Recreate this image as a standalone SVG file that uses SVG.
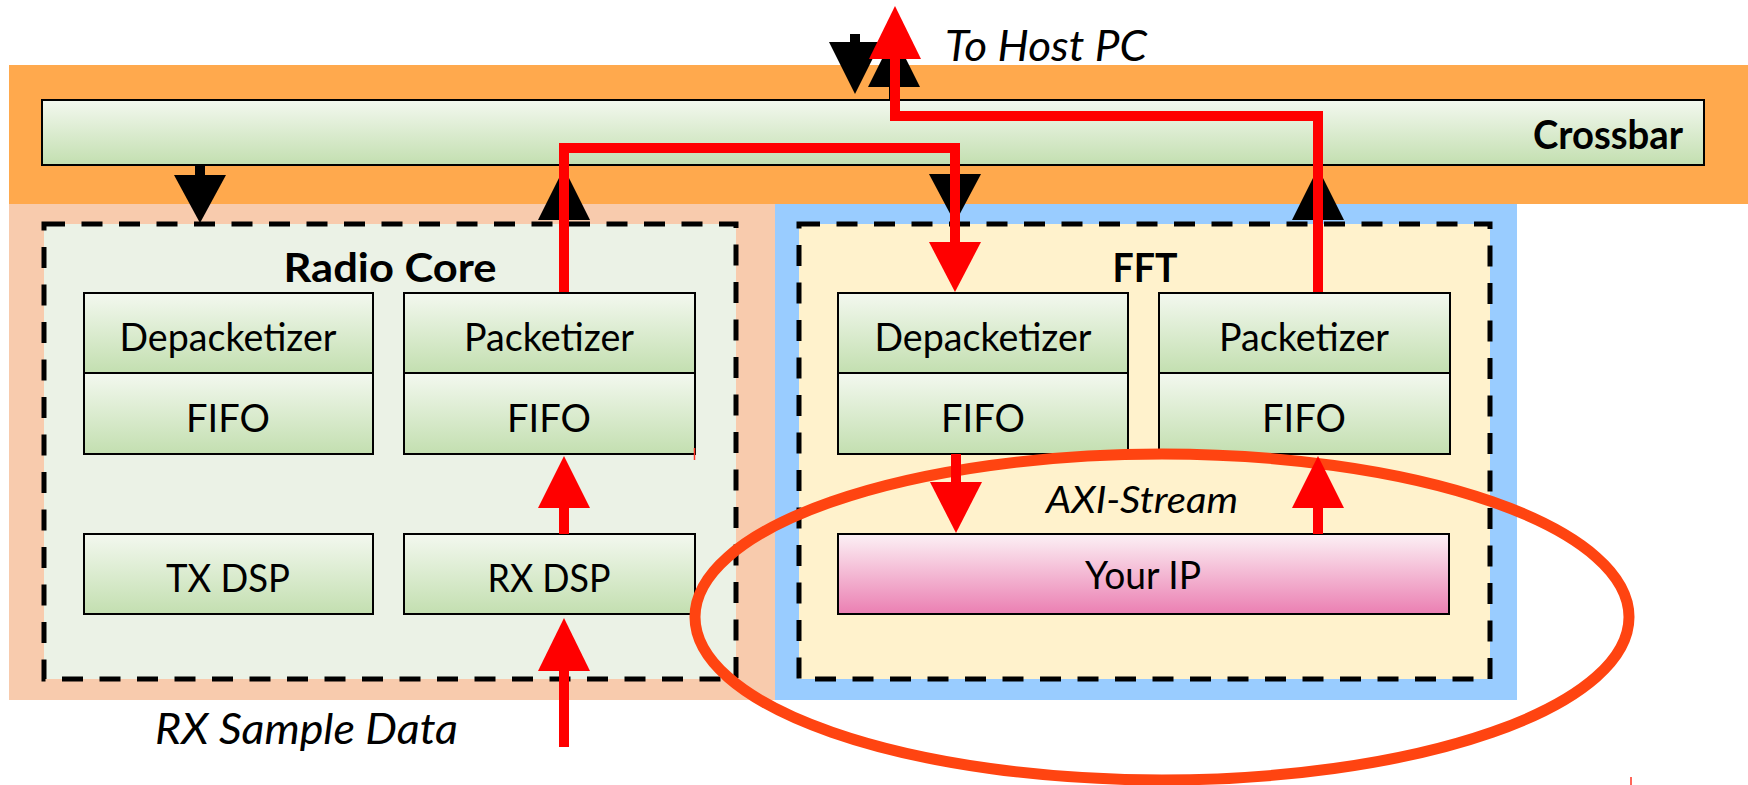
<svg xmlns="http://www.w3.org/2000/svg" width="1748" height="785" viewBox="0 0 1748 785">
  <defs>
    <linearGradient id="gGreen" x1="0" y1="0" x2="0" y2="1">
      <stop offset="0" stop-color="#f3f8ef"/>
      <stop offset="1" stop-color="#c3dfb0"/>
    </linearGradient>
    <linearGradient id="gPink" x1="0" y1="0" x2="0" y2="1">
      <stop offset="0" stop-color="#fcf1f5"/>
      <stop offset="1" stop-color="#eb7fb2"/>
    </linearGradient>
  </defs>
  <style>
    text { font-family: Lato, "Open Sans", "Liberation Sans", sans-serif; fill: #000; }
    .lbl { font-size: 38px; text-anchor: middle; }
    .ttl { font-size: 41px; font-weight: bold; text-anchor: middle; }
    .note { font-size: 42px; font-style: italic; }
    .blk { fill: url(#gGreen); stroke: #000; stroke-width: 2; }
    .ip { fill: url(#gPink); stroke: #000; stroke-width: 2; }
    .core { stroke: #000; stroke-width: 5; stroke-dasharray: 21 16.5; }
    .bus { fill: none; stroke: #ff0000; stroke-width: 10; }
    .rhead { fill: #ff0000; }
    .khead { fill: #000; }
    .kstem { stroke: #000; stroke-width: 10; }
  </style>

  <!-- background regions -->
  <rect x="9" y="65" width="1739" height="139" fill="#ffa94d"/>
  <rect x="9" y="204" width="766" height="496" fill="#f8cbad"/>
  <rect x="775" y="204" width="742" height="496" fill="#99ccff"/>

  <g id="crossbar">
    <rect class="blk" x="42" y="100" width="1662" height="65"/>
    <text class="ttl" x="1608" y="149" textLength="150" lengthAdjust="spacingAndGlyphs">Crossbar</text>
  </g>

  <g id="radio-core">
    <rect class="core" x="44" y="224" width="692" height="455" fill="#ebf2e6"/>
    <text class="ttl" x="390" y="282" textLength="213" lengthAdjust="spacingAndGlyphs">Radio Core</text>
  </g>
  <g id="rc-depacketizer">
    <rect class="blk" x="84" y="293" width="289" height="80"/>
    <text class="lbl" x="228" y="351" textLength="217" lengthAdjust="spacingAndGlyphs">Depacketizer</text>
  </g>
  <g id="rc-fifo-in">
    <rect class="blk" x="84" y="373" width="289" height="81"/>
    <text class="lbl" x="228" y="432">FIFO</text>
  </g>
  <g id="rc-packetizer">
    <rect class="blk" x="404" y="293" width="291" height="80"/>
    <text class="lbl" x="549" y="351" textLength="170" lengthAdjust="spacingAndGlyphs">Packetizer</text>
  </g>
  <g id="rc-fifo-out">
    <rect class="blk" x="404" y="373" width="291" height="81"/>
    <text class="lbl" x="549" y="432">FIFO</text>
  </g>
  <g id="tx-dsp">
    <rect class="blk" x="84" y="534" width="289" height="80"/>
    <text class="lbl" x="228" y="592" textLength="124" lengthAdjust="spacingAndGlyphs">TX DSP</text>
  </g>
  <g id="rx-dsp">
    <rect class="blk" x="404" y="534" width="291" height="80"/>
    <text class="lbl" x="549" y="592" textLength="123" lengthAdjust="spacingAndGlyphs">RX DSP</text>
  </g>

  <g id="fft">
    <rect class="core" x="799" y="224" width="691" height="455" fill="#fff2cc"/>
    <text class="ttl" x="1145" y="282" textLength="65" lengthAdjust="spacingAndGlyphs">FFT</text>
  </g>
  <g id="fft-depacketizer">
    <rect class="blk" x="838" y="293" width="290" height="80"/>
    <text class="lbl" x="983" y="351" textLength="217" lengthAdjust="spacingAndGlyphs">Depacketizer</text>
  </g>
  <g id="fft-fifo-in">
    <rect class="blk" x="838" y="373" width="290" height="81"/>
    <text class="lbl" x="983" y="432">FIFO</text>
  </g>
  <g id="fft-packetizer">
    <rect class="blk" x="1159" y="293" width="291" height="80"/>
    <text class="lbl" x="1304" y="351" textLength="170" lengthAdjust="spacingAndGlyphs">Packetizer</text>
  </g>
  <g id="fft-fifo-out">
    <rect class="blk" x="1159" y="373" width="291" height="81"/>
    <text class="lbl" x="1304" y="432">FIFO</text>
  </g>
  <g id="your-ip">
    <rect class="ip" x="838" y="534" width="611" height="80"/>
    <text class="lbl" x="1143" y="589" textLength="116" lengthAdjust="spacingAndGlyphs">Your IP</text>
  </g>

  <g id="connectors">
    <!-- crossbar ports (black) -->
    <line class="kstem" x1="200" y1="165" x2="200" y2="176"/>
    <polygon class="khead" points="174,175 226,175 200,223"/>
    <polygon class="khead" points="538,220 590,220 564,168"/>
    <polygon class="khead" points="929,174 981,174 955,223"/>
    <polygon class="khead" points="1292,220 1344,220 1318,168"/>
    <line class="kstem" x1="855" y1="34" x2="855" y2="43"/>
    <polygon class="khead" points="829,42 881,42 855,94"/>
    <polygon class="khead" points="868,87 920,87 894,35"/>
    <line class="kstem" x1="894" y1="86" x2="894" y2="100"/>

    <!-- highlight ellipse around the user block -->
    <ellipse cx="1162" cy="617" rx="467" ry="163" fill="none" stroke="#ff4411" stroke-width="11"/>

    <!-- red data path -->
    <polyline class="bus" points="564,292 564,148 955,148 955,245"/>
    <polygon class="rhead" points="929,242 981,242 955,292"/>
    <polyline class="bus" points="1318,292 1318,116 895,116 895,55"/>
    <polygon class="rhead" points="869,59 921,59 895,6"/>
    <line class="bus" x1="564" y1="534" x2="564" y2="505"/>
    <polygon class="rhead" points="538,508 590,508 564,456"/>
    <line class="bus" x1="564" y1="747" x2="564" y2="668"/>
    <polygon class="rhead" points="538,671 590,671 564,618"/>
    <line class="bus" x1="956" y1="454" x2="956" y2="485"/>
    <polygon class="rhead" points="930,482 982,482 956,533"/>
    <line class="bus" x1="1318" y1="534" x2="1318" y2="505"/>
    <polygon class="rhead" points="1292,508 1344,508 1318,456"/>
  </g>

  <!-- stray marks -->
  <line x1="694.5" y1="448" x2="694.5" y2="460" stroke="#ff3322" stroke-width="1.5"/>
  <line x1="1631" y1="777" x2="1631" y2="785" stroke="#ff3322" stroke-width="1.5"/>

  <text class="note" x="945" y="61" style="font-size:43px" textLength="202" lengthAdjust="spacingAndGlyphs">To Host PC</text>
  <text class="note" x="155" y="744" textLength="303" lengthAdjust="spacingAndGlyphs">RX Sample Data</text>
  <text class="note" x="1046" y="513" style="font-size:37px" textLength="192" lengthAdjust="spacingAndGlyphs">AXI-Stream</text>
</svg>
